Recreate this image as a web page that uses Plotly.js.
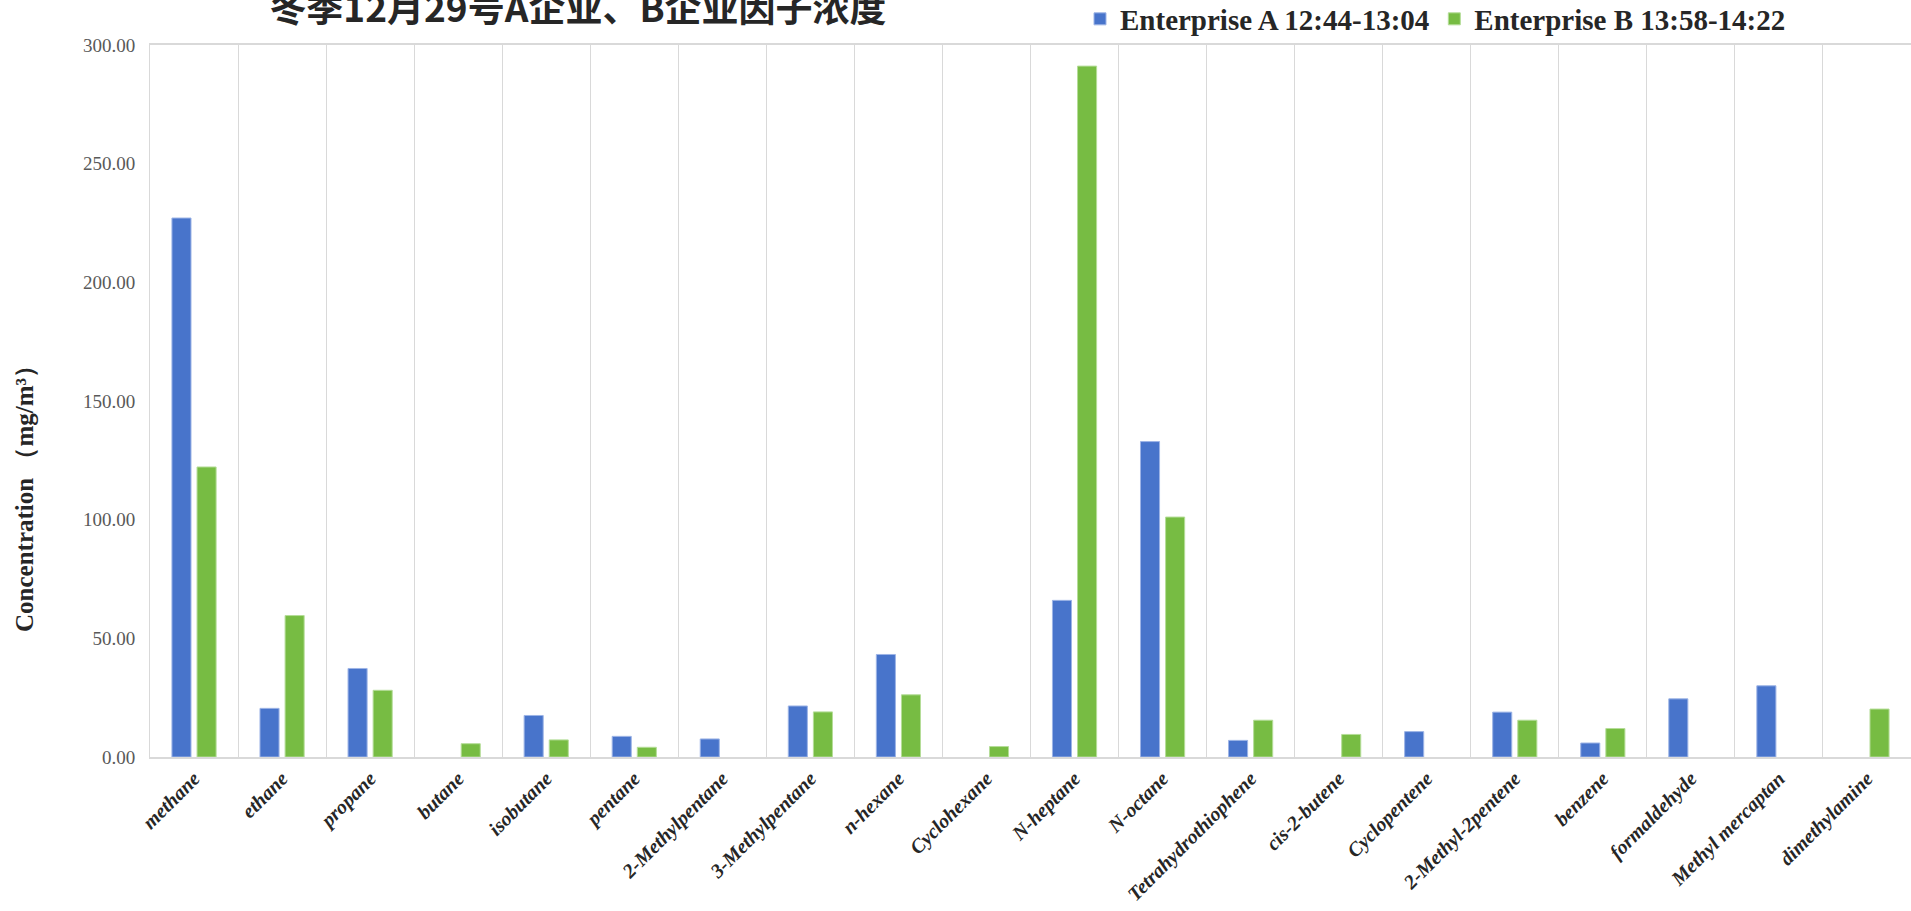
<!DOCTYPE html>
<html>
<head>
<meta charset="utf-8">
<script src="https://cdn.plot.ly/plotly-3.0.1.min.js"></script>
<style>
html,body{margin:0;padding:0;background:#fff;}
#chart{width:1911px;height:911px;}
</style>
</head>
<body>
<div id="chart"></div>
<script>
const categories = ["methane","ethane","propane","butane","isobutane","pentane","2-Methylpentane","3-Methylpentane","n-hexane","Cyclohexane","N-heptane","N-octane","Tetrahydrothiophene","cis-2-butene","Cyclopentene","2-Methyl-2pentene","benzene","formaldehyde","Methyl mercaptan","dimethylamine"];
const seriesAName = "Enterprise A 12:44-13:04";
const seriesBName = "Enterprise B 13:58-14:22";
const seriesA = [227.1, 20.5, 37.3, null, 17.5, 8.7, 7.6, 21.5, 43.2, null, 66.0, 132.9, 7.0, null, 10.7, 18.9, 5.9, 24.5, 30.0, null];
const seriesB = [122.2, 59.6, 28.1, 5.6, 7.2, 4.1, null, 19.0, 26.2, 4.4, 291.1, 101.1, 15.5, 9.5, null, 15.5, 12.0, null, null, 20.2];
const yTickVals = [0, 50, 100, 150, 200, 250, 300];
const chartTitle = "冬季12月29号A企业、B企业因子浓度";
const yTitle = "Concentration （mg/m³）";

const traces = [
  {type:"bar", name:seriesAName, x:categories, y:seriesA,
   marker:{color:"#4874CB", line:{color:"#9db4e6", width:1}}},
  {type:"bar", name:seriesBName, x:categories, y:seriesB,
   marker:{color:"#77BC43", line:{color:"#b5dd98", width:1}}}
];

const layout = {
  width:1911, height:911,
  paper_bgcolor:"#fff", plot_bgcolor:"#fff",
  margin:{l:150, r:0, t:45, b:154},
  barmode:"group", bargap:0.43, bargroupgap:0.24,
  title:{text:chartTitle, x:578/1911, xanchor:"center", xref:"container",
         y:1-9/911, yanchor:"middle", yref:"container",
         font:{family:"Noto Sans CJK SC, serif", size:37, color:"#262626", weight:"bold"}},
  showlegend:true,
  legend:{orientation:"h", xref:"container", yref:"container", x:1080/1911, xanchor:"left",
          y:1-19/911, yanchor:"middle", bgcolor:"rgba(0,0,0,0)",
          font:{family:"Liberation Serif, serif", size:29, color:"#262626", weight:"bold"},
          traceorder:"normal", itemwidth:30},
  xaxis:{type:"category", tickson:"boundaries", showgrid:true, gridcolor:"#d9d9d9", gridwidth:1,
         showline:true, linecolor:"#d9d9d9", linewidth:2, mirror:true,
         ticks:"outside", ticklen:12, tickcolor:"rgba(0,0,0,0)", tickangle:-45,
         tickfont:{family:"Liberation Serif, serif", size:20, color:"#262626", weight:"bold", style:"italic"},
         automargin:false},
  yaxis:{range:[0,300], tickvals:yTickVals, tickformat:".2f", showgrid:false, zeroline:false,
         showline:true, linecolor:"#d9d9d9", linewidth:1,
         ticks:"outside", ticklen:10, tickcolor:"rgba(0,0,0,0)",
         tickfont:{family:"Liberation Serif, serif", size:19, color:"#595959"},
         automargin:false},
  annotations:[
    {text:yTitle, xref:"paper", yref:"paper", x:-126/1761, y:(757-493)/712,
     xanchor:"center", yanchor:"middle", textangle:-90, showarrow:false,
     font:{family:"Liberation Serif, serif", size:25, color:"#262626", weight:"bold"}}
  ]
};

Plotly.newPlot("chart", traces, layout, {displayModeBar:false, staticPlot:true});
</script>
</body>
</html>
